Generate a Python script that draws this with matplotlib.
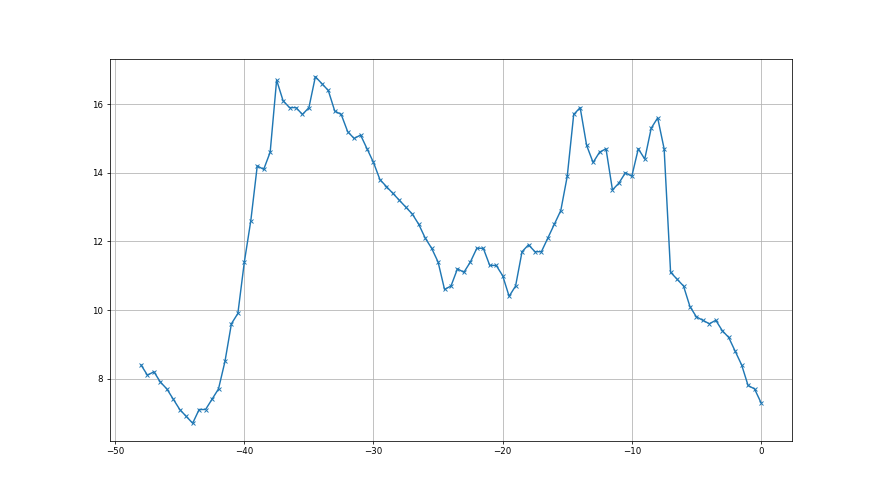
import matplotlib
matplotlib.use('Agg')
import matplotlib.pyplot as plt
import numpy as np

# x positions: -48 .. 0 in half steps
x = np.arange(-48, 0.5, 0.5)

y = [8.4, 8.1, 8.2, 7.9, 7.7, 7.4, 7.1, 6.9, 6.7, 7.1, 7.1, 7.4, 7.7, 8.5, 9.6, 9.9, 11.4,
     12.6, 14.2, 14.1, 14.6, 16.7, 16.1, 15.9, 15.9, 15.7, 15.9, 16.8, 16.6, 16.4, 15.8,
     15.7, 15.2, 15.0, 15.1, 14.7, 14.3,
     13.8, 13.6, 13.4, 13.2, 13.0, 12.8, 12.5, 12.1, 11.8, 11.4, 10.6, 10.7, 11.2, 11.1,
     11.4, 11.8, 11.8, 11.3, 11.3, 11.0,
     10.4, 10.7, 11.7, 11.9, 11.7, 11.7, 12.1, 12.5, 12.9, 13.9, 15.7, 15.9, 14.8, 14.3,
     14.6, 14.7, 13.5, 13.7, 14.0, 13.9,
     14.7, 14.4, 15.3, 15.6, 14.7, 11.1, 10.9, 10.7, 10.1, 9.8, 9.7, 9.6, 9.7, 9.4,
     9.2, 8.8, 8.4, 7.8, 7.7, 7.3]

fig = plt.figure(figsize=(12.8, 7.2), dpi=68.75)
ax = fig.add_subplot(111)
ax.plot(x, y, marker='x', markersize=5)
ax.tick_params(labelsize=9)
ax.grid(True)

fig.savefig('out.png', dpi=68.75)
